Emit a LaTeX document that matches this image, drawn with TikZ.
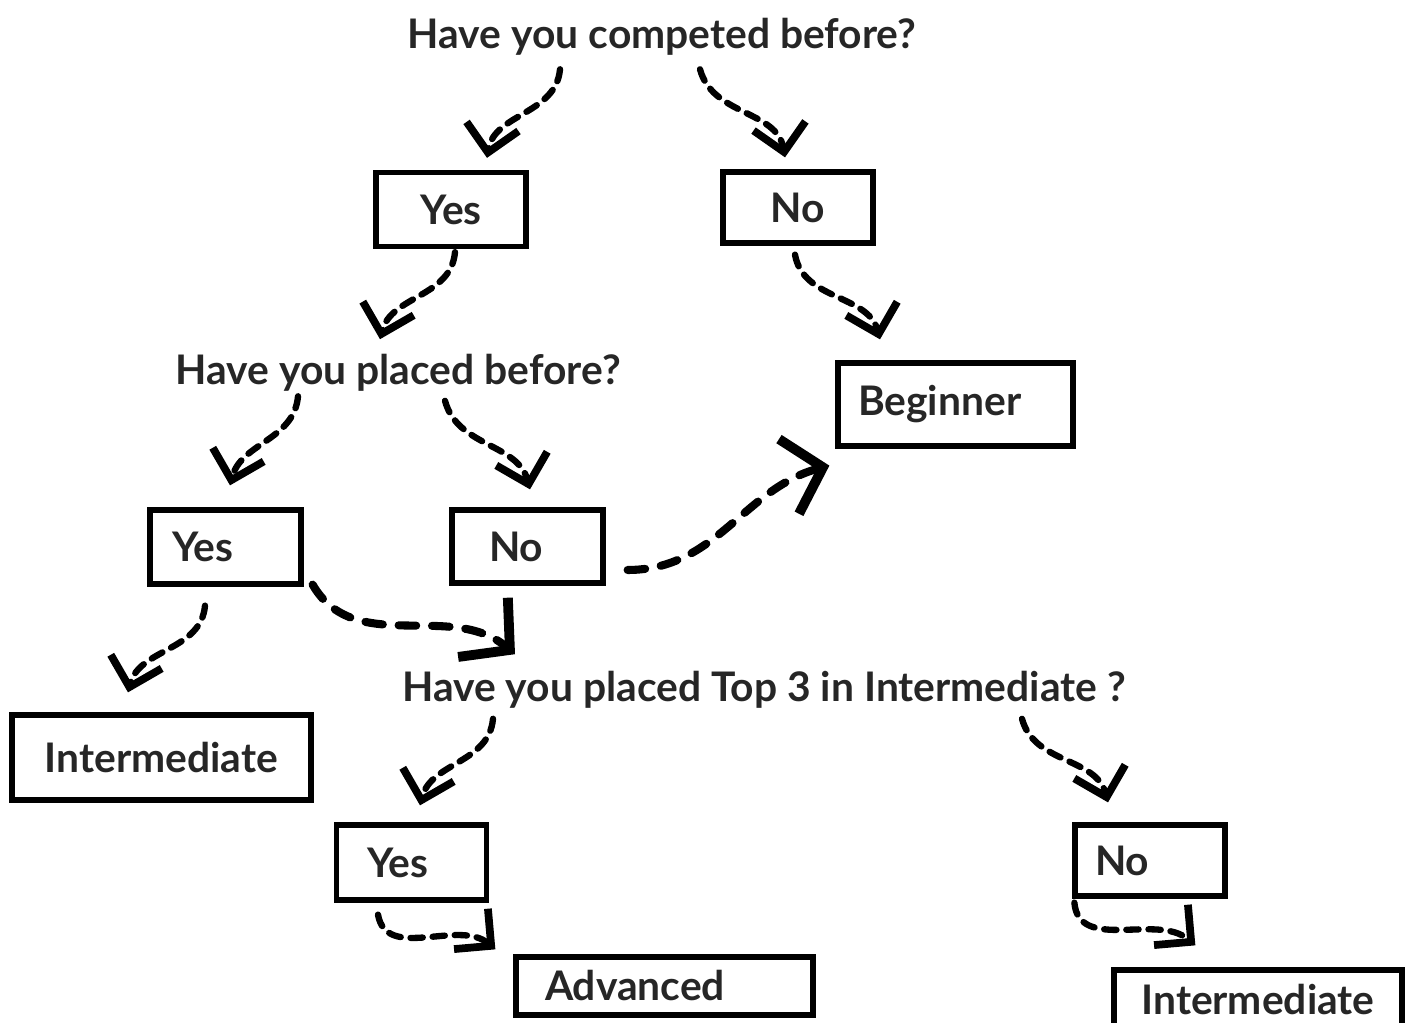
\documentclass[tikz,border=0pt]{standalone}
\usepackage{fontspec}
\setmainfont{Lato}
\usetikzlibrary{positioning,arrows.meta}

\tikzset{
  question/.style={font=\bfseries\fontsize{11.6}{13}\selectfont, text=black!85, inner sep=2pt},
  answer/.style={draw, line width=1.5pt, font=\bfseries\fontsize{11.6}{13}\selectfont, text=black!85,
    minimum width=1.5cm, minimum height=0.74cm},
  flow/.style={line width=1.8pt, dash pattern=on 3.5pt off 2.8pt, line cap=round,
    -{Straight Barb[length=7.5pt,width=15pt,line width=2.2pt]}},
  bigflow/.style={flow, line width=2.3pt, dash pattern=on 5pt off 4.5pt,
    -{Straight Barb[length=10pt,width=22pt,line width=2.8pt]}}
}

\begin{document}
\begin{tikzpicture}
  \useasboundingbox (0,0) rectangle (14.05,-10.23);

  % Nodes
  \node (q1) [question] at (6.62,-0.37) {Have you competed before?};
  \node (yes1) [answer] at (4.51,-2.095) {Yes};
  \node (no1) [answer, minimum height=0.71cm] at (7.98,-2.075) {No};
  \node (q2) [question] at (3.98,-3.73) {Have you placed before?};
  \node (beginner) [answer, align=left, inner xsep=0.2cm, text width=1.95cm, minimum height=0.83cm] at (9.555,-4.045) {Beginner};
  \node (yes2) [answer, align=left, inner xsep=0.22cm, text width=1.07cm] at (2.255,-5.47) {Yes};
  \node (no2) [answer, align=left, inner xsep=0.37cm, text width=0.77cm, minimum height=0.73cm] at (5.275,-5.465) {No};
  \node (q3) [question] at (7.64,-6.90) {Have you placed Top 3 in Intermediate ?};
  \node (inter1) [answer, minimum width=2.99cm, minimum height=0.85cm] at (1.615,-7.575) {Intermediate};
  \node (yes3) [answer, align=left, inner xsep=0.3cm, text width=0.89cm, minimum height=0.75cm] at (4.115,-8.625) {Yes};
  \node (no3) [answer, align=left, inner xsep=0.19cm, text width=1.1cm, minimum height=0.71cm] at (11.50,-8.605) {No};
  \node (advanced) [answer, align=left, inner xsep=0.29cm, text width=2.39cm, minimum height=0.58cm] at (6.645,-9.86) {Advanced};
  \node (inter2) [answer, minimum width=2.88cm, minimum height=0.60cm] at (12.58,-10.0) {Intermediate};

  % Arrows
  \draw[flow] ([xshift=-1.02cm,yshift=-0.06cm]q1.south) to[out=-95,in=80] ([xshift=0.36cm,yshift=0.12cm]yes1.north);
  \draw[flow] ([xshift=0.38cm,yshift=-0.06cm]q1.south) to[out=-75,in=100] ([xshift=-0.13cm,yshift=0.12cm]no1.north);
  \draw[flow] ([xshift=0.04cm,yshift=-0.03cm]yes1.south) to[out=-95,in=75] ([xshift=-0.18cm,yshift=0.075cm]q2.north);
  \draw[flow] ([xshift=-0.03cm,yshift=-0.09cm]no1.south) to[out=-80,in=105] ([xshift=-0.755cm,yshift=0.21cm]beginner.north);
  \draw[flow] ([xshift=-1.0cm,yshift=0.03cm]q2.south) to[out=-95,in=75] ([xshift=0.045cm,yshift=0.22cm]yes2.north);
  \draw[flow] ([xshift=0.47cm,yshift=-0.015cm]q2.south) to[out=-75,in=105] ([xshift=0.025cm,yshift=0.18cm]no2.north);
  \draw[bigflow] ([xshift=0.22cm,yshift=-0.235cm]no2.east) to[out=0,in=195] ([xshift=-0.06cm,yshift=-0.17cm]beginner.south west);
  \draw[bigflow] ([xshift=0.09cm,yshift=0.02cm]yes2.south east) to[out=-60,in=140] ([xshift=-2.49cm,yshift=0.095cm]q3.north);
  \draw[flow] ([xshift=-0.205cm,yshift=-0.19cm]yes2.south) to[out=-95,in=75] ([xshift=-0.335cm,yshift=0.2cm]inter1.north);
  \draw[flow] ([xshift=-2.71cm,yshift=-0.025cm]q3.south) to[out=-95,in=75] ([xshift=0.085cm,yshift=0.17cm]yes3.north);
  \draw[flow] ([xshift=2.58cm,yshift=-0.025cm]q3.south) to[out=-75,in=105] ([xshift=-0.42cm,yshift=0.2cm]no3.north);
  \draw[flow] ([xshift=-0.335cm,yshift=-0.12cm]yes3.south) to[out=-80,in=140] ([xshift=-0.18cm,yshift=0.05cm]advanced.north west);
  \draw[flow] ([xshift=0.02cm,yshift=-0.04cm]no3.south west) to[out=-85,in=140] ([xshift=0.84cm,yshift=0.22cm]inter2.north west);
\end{tikzpicture}
\end{document}
